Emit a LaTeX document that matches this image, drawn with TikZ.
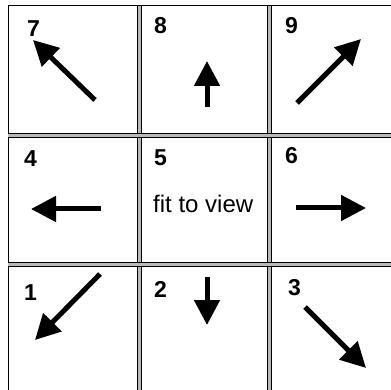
\documentclass[tikz,border=0pt]{standalone}
\usepackage{fontspec}
\setmainfont{Liberation Sans}
\usetikzlibrary{arrows.meta}
\begin{document}
\begin{tikzpicture}[x=1pt,y=-1pt,
  lbl/.style={inner sep=0pt,anchor=base west,font=\fontsize{24}{24}\selectfont},
  num/.style={lbl,font=\fontsize{23}{23}\selectfont\bfseries},
  arr/.style={line width=5pt,-{Triangle[length=25pt,width=25pt]}},
  divband/.style={fill=gray!55},
  divline/.style={line width=1pt,black}]
\useasboundingbox (0,0) rectangle (391,390);
\fill[white] (0,0) rectangle (391,390);
% outer border
\draw[divline] (8,390) -- (8,6) -- (391,6);
% dividers
\foreach \x in {139,269}{
  \fill[divband] (\x-2,6) rectangle (\x+2,390);
  \draw[divline] (\x-2,6) -- (\x-2,390);
  \draw[divline] (\x+2,6) -- (\x+2,390);
}
\foreach \y in {136,265}{
  \fill[divband] (8,\y-2) rectangle (391,\y+2);
  \draw[divline] (8,\y-2) -- (391,\y-2);
  \draw[divline] (8,\y+2) -- (391,\y+2);
}
% labels
\node[num] (n7) at (27,37) {7};
\node[num] (n8) at (154,34) {8};
\node[num] (n9) at (285,34) {9};
\node[num] (n4) at (24,167) {4};
\node[num] (n5) at (154,166) {5};
\node[lbl] (fit) at (153,213) {fit to view};
\node[num] (n6) at (285,164) {6};
\node[num] (n1) at (24,301) {1};
\node[num] (n2) at (154,298) {2};
\node[num] (n3) at (288,295) {3};
% arrow coordinates
\coordinate (t7) at (95,100); \coordinate (h7) at (33,40);
\coordinate (t8) at (207,107); \coordinate (h8) at (207,61);
\coordinate (t9) at (297,103); \coordinate (h9) at (361,39);
\coordinate (t4) at (101,209); \coordinate (h4) at (31,209);
\coordinate (t6) at (296,208); \coordinate (h6) at (366,208);
\coordinate (t1) at (100,274); \coordinate (h1) at (35,340);
\coordinate (t2) at (207,277); \coordinate (h2) at (207,325);
\coordinate (t3) at (305,307); \coordinate (h3) at (366,368);
\foreach \i in {7,8,9,4,6,1,2,3}{
  \draw[arr] (t\i) -- (h\i);
}
\end{tikzpicture}
\end{document}
